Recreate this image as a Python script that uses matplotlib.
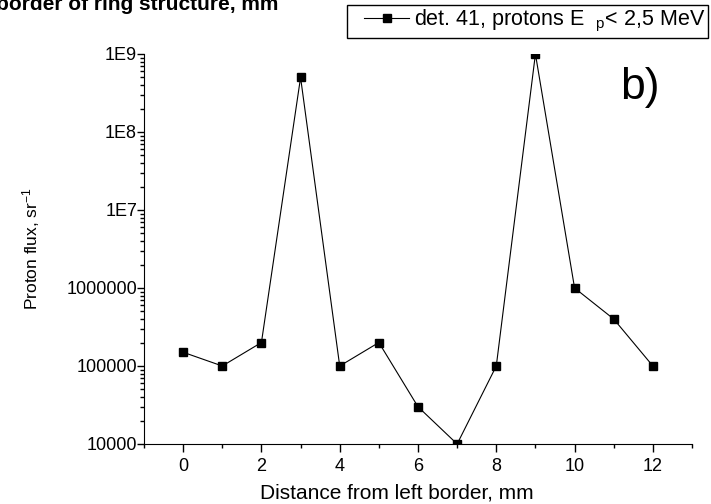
import numpy as np
import matplotlib.pyplot as plt
from matplotlib.legend_handler import HandlerLine2D
from matplotlib.ticker import FixedLocator, LogLocator, FuncFormatter, MultipleLocator

plt.rcParams['font.family'] = ['Liberation Sans', 'DejaVu Sans']
plt.rcParams['mathtext.fontset'] = 'custom'
plt.rcParams['mathtext.rm'] = 'Liberation Sans'
plt.rcParams['mathtext.it'] = 'Liberation Sans:italic'

# 數據：距離(mm) 與質子通量
distance = [0, 1, 2, 3, 4, 5, 6, 7, 8, 9, 10, 11, 12]
flux = [1.5e5, 1e5, 2e5, 5e8, 1e5, 2e5, 3e4, 1e4, 1e5, 1e9, 1e6, 4e5, 1e5]
ytick_vals = [1e4, 1e5, 1e6, 1e7, 1e8, 1e9]
ytick_labels = ['10000', '100000', '1000000', '1E7', '1E8', '1E9']

fig = plt.figure(figsize=(7.11, 5.04), dpi=100)
ax = fig.add_axes([144/711, 1-444/504, (692-144)/711, (444-54)/504])

ax.plot(distance, flux, color='black', linewidth=0.8, marker='s', markersize=6,
        label='det. 41, protons E  $_{\\rm p}$< 2,5 MeV')
ax.set_yscale('log')
ax.set_ylim(1e4, 1e9)
ax.set_xlim(-1, 13)

ax.yaxis.set_major_locator(FixedLocator(ytick_vals))
ax.yaxis.set_major_formatter(FuncFormatter(lambda v, p: dict(zip(ytick_vals, ytick_labels)).get(v, '')))
ax.yaxis.set_minor_locator(LogLocator(base=10, subs=np.arange(2, 10)))
ax.yaxis.set_minor_formatter(FuncFormatter(lambda v, p: ''))
ax.xaxis.set_major_locator(MultipleLocator(2))
ax.xaxis.set_minor_locator(MultipleLocator(1))

for s in ['top', 'right']:
    ax.spines[s].set_visible(False)
ax.tick_params(which='major', direction='out', length=5, width=1, labelsize=13)
ax.tick_params(which='minor', direction='out', length=3, width=1)
ax.tick_params(axis='y', which='major', pad=0)
ax.tick_params(axis='x', which='major', length=6, pad=4)

ax.set_xlabel('Distance from left border, mm', fontsize=15)
ax.xaxis.set_label_coords((397-144)/548, -(493-444)/390)
ax.xaxis.label.set_va('center')
ax.set_ylabel('Proton flux, sr$^{-1}$', fontsize=12.5)
ax.yaxis.set_label_coords(-(144-31)/548, 0.5)
ax.yaxis.label.set_va('center')

fig.text(660/711, 1-87/504, 'b)', fontsize=32, ha='right', va='center')
# 上方被裁切的標題（原圖即如此）
fig.text(-4/711, 1-10/504, 'border of ring structure, mm', fontsize=15, fontweight='bold',
         ha='left', va='baseline')

fig.legend(loc='upper left', bbox_to_anchor=(347/711, 1-5/504), fancybox=False,
           edgecolor='black', framealpha=1, fontsize=15.5, handlelength=2.75,
           handletextpad=0.2, borderpad=0.15, borderaxespad=0,
           handler_map={ax.lines[0]: HandlerLine2D(xpad=0.65)})

fig.savefig('out.png', dpi=100)
